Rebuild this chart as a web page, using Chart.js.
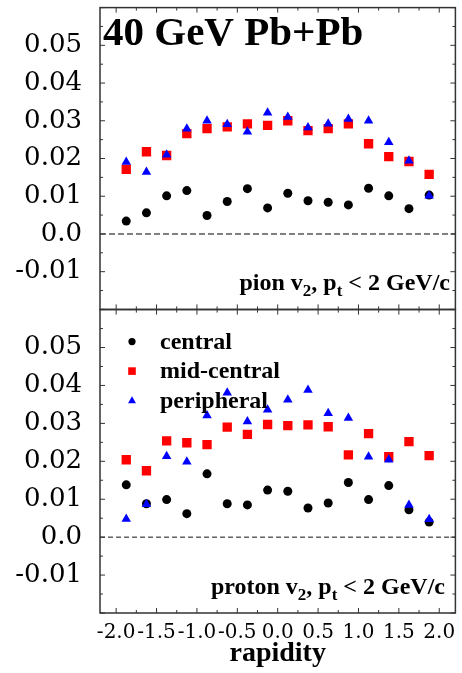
<!DOCTYPE html>
<html>
<head>
<meta charset="utf-8">
<script src="https://cdn.jsdelivr.net/npm/chart.js@4.4.1/dist/chart.umd.min.js"></script>
<style>
  html, body { margin: 0; padding: 0; background: #fff; }
  #wrap { position: relative; width: 462px; height: 673px; overflow: hidden; }
  canvas { position: absolute; left: 0; top: 0; }
</style>
</head>
<body>
<div id="wrap">
  <canvas id="pion" width="462" height="311"></canvas>
  <canvas id="proton" width="462" height="364"></canvas>
</div>
<script>
// bin centres in rapidity
const rapidity = [-1.875, -1.625, -1.375, -1.125, -0.875, -0.625, -0.375, -0.125,
                  0.125, 0.375, 0.625, 0.875, 1.125, 1.375, 1.625, 1.875];

const pionCentral = [0.0034, 0.0056, 0.0101, 0.0115, 0.0049, 0.0086, 0.0120, 0.0069,
                     0.0108, 0.0088, 0.0084, 0.0077, 0.0121, 0.0101, 0.0067, 0.0103];
const pionMid = [0.0171, 0.0218, 0.0208, 0.0266, 0.0279, 0.0284, 0.0292, 0.0288,
                 0.0300, 0.0274, 0.0279, 0.0292, 0.0239, 0.0205, 0.0192, 0.0158];
const pionPeriph = [0.0191, 0.0164, 0.0210, 0.0279, 0.0300, 0.0291, 0.0271, 0.0321,
                    0.0310, 0.0282, 0.0292, 0.0305, 0.0300, 0.0243, 0.0194, 0.0101];

const protonCentral = [0.0138, 0.0088, 0.0099, 0.0062, 0.0167, 0.0088, 0.0085, 0.0124,
                       0.0121, 0.0077, 0.0090, 0.0144, 0.0099, 0.0136, 0.0072, 0.0040];
const protonMid = [0.0204, 0.0175, 0.0254, 0.0249, 0.0244, 0.0290, 0.0271, 0.0297,
                   0.0294, 0.0296, 0.0291, 0.0217, 0.0273, 0.0212, 0.0252, 0.0215];
const protonPeriph = [0.0048, 0.0087, 0.0213, 0.0199, 0.0321, 0.0381, 0.0305, 0.0336,
                      0.0362, 0.0388, 0.0327, 0.0314, 0.0212, 0.0204, 0.0085, 0.0047];

const xTicks = [-2.0, -1.5, -1.0, -0.5, 0.0, 0.5, 1.0, 1.5, 2.0];
const yTicks = [-0.01, 0.0, 0.01, 0.02, 0.03, 0.04, 0.05];

Chart.defaults.font.family = 'DejaVu Serif';
Chart.defaults.color = '#000';

const boldSerif = size => `bold ${size}px "Liberation Serif"`;

function series(label, values, style, color, radius, order) {
  return {
    label, order,
    data: rapidity.map((r, i) => ({x: r, y: values[i]})),
    pointStyle: style,
    pointRadius: radius,
    pointHoverRadius: radius,
    backgroundColor: color,
    borderColor: color,
    borderWidth: 0,
    showLine: false
  };
}

const drawMarker = (ctx, style, x, y, r, color) => {
  ctx.fillStyle = color;
  ctx.beginPath();
  if (style === 'circle') {
    ctx.arc(x, y, r, 0, Math.PI * 2);
  } else if (style === 'rect') {
    ctx.rect(x - r, y - r, 2 * r, 2 * r);
  } else {
    ctx.moveTo(x, y - r);
    ctx.lineTo(x + r * 0.9, y + r * 0.6);
    ctx.lineTo(x - r * 0.9, y + r * 0.6);
    ctx.closePath();
  }
  ctx.fill();
};

// label with subscripts, right aligned
const drawRich = (ctx, parts, right, baseline, size) => {
  const subSize = Math.round(size * 0.72);
  let total = 0;
  parts.forEach(p => {
    ctx.font = boldSerif(p.sub ? subSize : size);
    p.w = ctx.measureText(p.t).width;
    total += p.w;
  });
  let x = right - total;
  ctx.textAlign = 'left';
  ctx.textBaseline = 'alphabetic';
  parts.forEach(p => {
    ctx.font = boldSerif(p.sub ? subSize : size);
    ctx.fillText(p.t, x, baseline + (p.sub ? size * 0.25 : 0));
    x += p.w;
  });
};

const panelPlugin = {
  id: 'panel',
  beforeDatasetsDraw(chart, args, opts) {
    const {ctx, chartArea: a, scales: {y}} = chart;
    const y0 = y.getPixelForValue(0);
    ctx.save();
    ctx.strokeStyle = opts.zeroColor;
    ctx.lineWidth = opts.zeroWidth;
    ctx.setLineDash(opts.zeroDash);
    ctx.beginPath();
    ctx.moveTo(a.left, y0);
    ctx.lineTo(a.right, y0);
    ctx.stroke();
    ctx.restore();
  },
  afterDraw(chart, args, opts) {
    const {ctx, chartArea: a, scales: {x, y}} = chart;
    ctx.save();
    ctx.strokeStyle = '#333';
    ctx.lineWidth = 1;
    ctx.beginPath();
    // y ticks every 0.005, inward on both sides
    for (let i = -4; i <= 12; i++) {
      const py = y.getPixelForValue(i * 0.005);
      const len = Math.abs(i) % 2 === 0 ? 5 : 3;
      ctx.moveTo(a.left, py); ctx.lineTo(a.left + len, py);
      ctx.moveTo(a.right, py); ctx.lineTo(a.right - len, py);
    }
    // x ticks every 0.25, inward top and bottom
    for (let i = -8; i <= 8; i++) {
      const px = x.getPixelForValue(i * 0.25);
      const len = Math.abs(i) % 2 === 0 ? 5 : 3;
      ctx.moveTo(px, a.top); ctx.lineTo(px, a.top + len);
      ctx.moveTo(px, a.bottom); ctx.lineTo(px, a.bottom - len);
    }
    ctx.stroke();
    ctx.lineWidth = 1.5;
    ctx.strokeRect(a.left, a.top, a.right - a.left, a.bottom - a.top);

    ctx.fillStyle = '#000';
    if (opts.title) {
      ctx.font = boldSerif(41);
      ctx.textAlign = 'left';
      ctx.textBaseline = 'alphabetic';
      ctx.fillText(opts.title, a.left + 3, a.top + 37);
    }
    drawRich(ctx, opts.label, opts.labelRight, a.bottom - 19, 24);

    if (opts.legend) {
      chart.data.datasets.forEach((ds, i) => {
        const ly = a.top + 32 + i * 29.5;
        const r = ds.pointStyle === 'circle' ? 3.6 : ds.pointStyle === 'rect' ? 3.8 : 4.4;
        drawMarker(ctx, ds.pointStyle, a.left + 32, ly, r, ds.backgroundColor);
        ctx.fillStyle = '#000';
        ctx.font = boldSerif(24);
        ctx.textAlign = 'left';
        ctx.textBaseline = 'alphabetic';
        ctx.fillText(ds.label, a.left + 60, ly + 7);
      });
    }
    ctx.restore();
  }
};

const yScale = () => ({
  min: -0.02,
  max: 0.06,
  afterBuildTicks: s => { s.ticks = yTicks.map(v => ({value: v})); },
  afterFit: s => { s.width = 100; s.paddingTop = 0; s.paddingBottom = 0; },
  grid: {display: false, drawTicks: false},
  border: {display: false},
  ticks: {
    autoSkip: false,
    padding: 18,
    font: {size: 26},
    callback: v => v === 0 ? '0.0' : v.toFixed(2)
  }
});

const sets = (c, m, p) => [
  series('central', c, 'circle', '#000000', 4.5, 3),
  series('mid-central', m, 'rect', '#ff0000', 6.6, 2),
  series('peripheral', p, 'triangle', '#0000ff', 5.5, 1)
];

const pionConfig = () => ({
  type: 'scatter',
  data: {datasets: sets(pionCentral, pionMid, pionPeriph)},
  options: {
    responsive: false,
    maintainAspectRatio: false,
    animation: false,
    events: [],
    layout: {padding: {top: 1, right: 1, bottom: 1, left: 0}},
    plugins: {
      legend: {display: false},
      tooltip: {enabled: false},
      panel: {
        title: '40 GeV Pb+Pb',
        label: [{t: 'pion v'}, {t: '2', sub: true}, {t: ', p'}, {t: 't', sub: true}, {t: ' < 2 GeV/c'}],
        labelRight: 450,
        zeroColor: '#808080',
        zeroWidth: 2,
        zeroDash: [6, 3]
      }
    },
    scales: {
      x: {type: 'linear', min: -2.2, max: 2.2, display: false},
      y: yScale()
    }
  },
  plugins: [panelPlugin]
});

const protonConfig = () => ({
  type: 'scatter',
  data: {datasets: sets(protonCentral, protonMid, protonPeriph)},
  options: {
    responsive: false,
    maintainAspectRatio: false,
    animation: false,
    events: [],
    layout: {padding: {top: 1, right: 1, bottom: 0, left: 0}},
    plugins: {
      legend: {display: false},
      tooltip: {enabled: false},
      panel: {
        legend: true,
        label: [{t: 'proton v'}, {t: '2', sub: true}, {t: ', p'}, {t: 't', sub: true}, {t: ' < 2 GeV/c'}],
        labelRight: 445,
        zeroColor: '#111',
        zeroWidth: 1,
        zeroDash: [5, 3]
      }
    },
    scales: {
      x: {
        type: 'linear',
        min: -2.2,
        max: 2.2,
        afterBuildTicks: s => { s.ticks = xTicks.map(v => ({value: v})); },
        afterFit: s => { s.height = 60; s.paddingLeft = 0; s.paddingRight = 0; },
        grid: {display: false, drawTicks: false},
        border: {display: false},
        ticks: {
          autoSkip: false,
          maxRotation: 0,
          padding: 8,
          font: {size: 20},
          callback: v => v.toFixed(1)
        },
        title: {
          display: true,
          text: 'rapidity',
          color: '#000',
          font: {family: 'Liberation Serif', weight: 'bold', size: 28},
          padding: {top: 0, bottom: 2}
        }
      },
      y: yScale()
    }
  },
  plugins: [panelPlugin]
});

// place a panel so its plot frame spans [top, bottom] on the page
function mount(id, config, top, bottom) {
  const canvas = document.getElementById(id);
  const probe = new Chart(canvas, config());
  const above = probe.chartArea.top;
  const below = probe.height - probe.chartArea.bottom;
  probe.destroy();
  canvas.width = 462;
  canvas.height = Math.round(bottom - top + above + below);
  canvas.style.top = (top - above) + 'px';
  return new Chart(canvas, config());
}

mount('pion', pionConfig, 8, 310);
mount('proton', protonConfig, 310, 613);
</script>
</body>
</html>
